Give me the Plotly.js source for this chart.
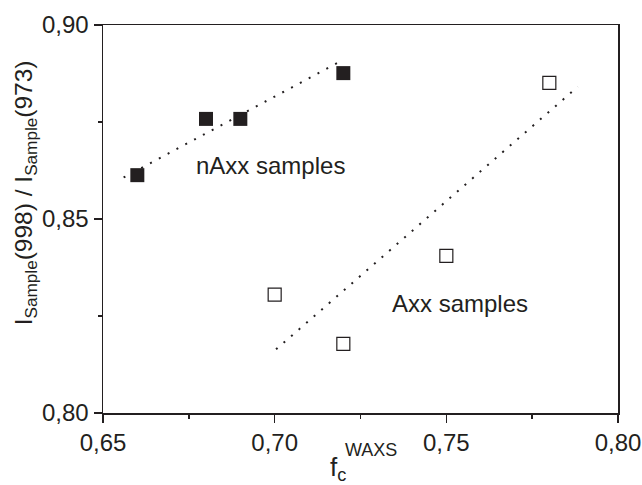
<!DOCTYPE html>
<html>
<head>
<meta charset="utf-8">
<script src="https://cdn.plot.ly/plotly-3.0.1.min.js"></script>
<style>html,body{margin:0;padding:0;background:#fff;}#chart{width:642px;height:485px;}</style>
</head>
<body>
<div id="chart"></div>
<script>
// nAxx samples (filled squares)
const nAxxX = [0.66, 0.68, 0.69, 0.72];
const nAxxY = [0.8613, 0.8758, 0.8758, 0.8876];
// Axx samples (open squares)
const axxX = [0.70, 0.72, 0.75, 0.78];
const axxY = [0.8305, 0.8178, 0.8405, 0.8851];
// dotted fit lines (endpoints as drawn)
const nAxxFitX = [0.656, 0.7193];
const nAxxFitY = [0.8607, 0.8907];
const axxFitX = [0.7004, 0.7883];
const axxFitY = [0.8164, 0.8841];
// tick labels
const xTicks = [0.65, 0.70, 0.75, 0.80];
const xTickText = ["0,65", "0,70", "0,75", "0,80"];
const yTicks = [0.80, 0.85, 0.90];
const yTickText = ["0,80", "0,85", "0,90"];
// texts
const yTitle = "I<sub>Sample</sub>(998) / I<sub>Sample</sub>(973)";
const xTitleMain = "f<sub>c</sub>";
const xTitleSup = "WAXS";
const groupLabels = ["nAxx samples", "Axx samples"];

const ink = "#231f20";
const font = "Liberation Sans, Arial, Helvetica, sans-serif";

const traces = [
  {x: nAxxFitX, y: nAxxFitY, mode: "lines", line: {color: ink, width: 2, dash: "2px,8px"}, hoverinfo: "skip", showlegend: false},
  {x: axxFitX, y: axxFitY, mode: "lines", line: {color: ink, width: 2, dash: "2px,8px"}, hoverinfo: "skip", showlegend: false},
  {x: nAxxX, y: nAxxY, mode: "markers", name: groupLabels[0],
   marker: {symbol: "square", size: 14, color: ink, line: {width: 0}}, showlegend: false},
  {x: axxX, y: axxY, mode: "markers", name: groupLabels[1],
   marker: {symbol: "square-open", size: 13, color: ink, line: {width: 1.2, color: ink}}, showlegend: false}
];

const axisCommon = {
  showgrid: false, zeroline: false, showline: true, linecolor: ink, linewidth: 1.5,
  mirror: true, ticks: "outside", ticklen: 8, tickwidth: 1.5, tickcolor: ink,
  tickfont: {family: font, size: 24, color: ink}
};

const layout = {
  width: 642, height: 485,
  margin: {l: 103, r: 24, t: 25, b: 72},
  paper_bgcolor: "#fff", plot_bgcolor: "#fff",
  font: {family: font, color: ink},
  xaxis: Object.assign({}, axisCommon, {
    range: [0.65, 0.80], tickmode: "array", tickvals: xTicks, ticktext: xTickText,
    minor: {dtick: 0.025, ticks: "outside", ticklen: 4, tickwidth: 1.5, tickcolor: ink, showgrid: false}
  }),
  yaxis: Object.assign({}, axisCommon, {
    range: [0.80, 0.90], tickmode: "array", tickvals: yTicks, ticktext: yTickText,
    minor: {dtick: 0.025, ticks: "outside", ticklen: 4, tickwidth: 1.5, tickcolor: ink, showgrid: false}
  }),
  annotations: [
    {x: 0.6989, y: 0.8639, xref: "x", yref: "y", text: groupLabels[0], showarrow: false,
     font: {family: font, size: 24, color: ink}},
    {x: 0.7539, y: 0.8283, xref: "x", yref: "y", text: groupLabels[1], showarrow: false,
     font: {family: font, size: 24, color: ink}},
    {x: -0.151, y: 0.567, xref: "paper", yref: "paper", text: yTitle, textangle: -90, showarrow: false,
     xanchor: "center", yanchor: "middle", font: {family: font, size: 24.5, color: ink}},
    {x: 0.436, y: 0, xref: "paper", yref: "paper", text: xTitleMain, showarrow: false,
     xanchor: "left", yanchor: "top", yshift: -37, font: {family: font, size: 26, color: ink}},
    {x: 0.4665, y: 0, xref: "paper", yref: "paper", text: xTitleSup, showarrow: false,
     xanchor: "left", yanchor: "middle", yshift: -37, font: {family: font, size: 18, color: ink}}
  ]
};

Plotly.newPlot("chart", traces, layout, {displayModeBar: false, staticPlot: true});
</script>
</body>
</html>
